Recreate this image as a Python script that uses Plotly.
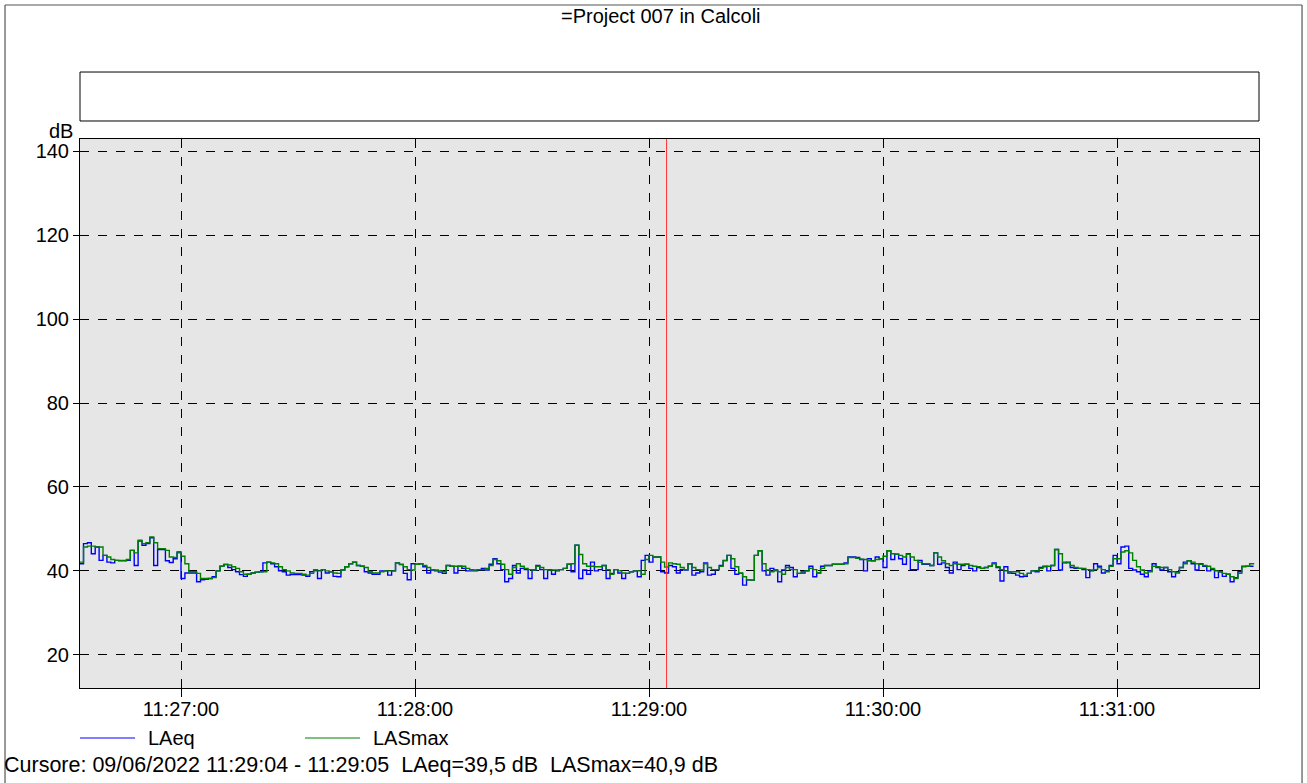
"""
Sound level meter trace (LAeq / LASmax) re-drawn with Plotly
"""
import pandas as pd
import plotly.graph_objects as go

TITLE = '=Project 007 in Calcoli'
START = '2022-06-09 11:26:34'
CURSOR = '2022-06-09 11:29:04.5'
CURSOR_TEXT = 'Cursore: 09/06/2022 11:29:04 - 11:29:05&nbsp; LAeq=39,5 dB&nbsp; LASmax=40,9 dB'

# 1 s values, dB
LAEQ = [
    41.7, 46.5, 46.7, 44.1, 45.7, 42.5, 43.7, 42.1, 41.9, 42.5,
    42.4, 42.4, 42.5, 44.9, 41.3, 47.1, 46.1, 46.5, 47.9, 41.3,
    45.1, 45.1, 42.4, 42.0, 42.9, 44.5, 38.2, 39.5, 39.5, 39.5,
    37.4, 37.9, 38.0, 38.2, 38.6, 40.0, 41.1, 41.5, 40.8, 40.3,
    39.8, 39.1, 38.7, 39.2, 39.5, 39.7, 39.8, 41.9, 42.1, 41.7,
    41.0, 40.0, 39.8, 39.0, 39.1, 39.1, 39.1, 39.0, 38.7, 39.8,
    40.2, 38.2, 40.3, 39.5, 39.8, 38.7, 38.6, 40.2, 41.0, 41.7,
    42.1, 41.3, 41.1, 39.8, 39.5, 39.2, 39.2, 40.0, 40.0, 39.0,
    40.0, 41.9, 41.5, 39.4, 37.9, 41.7, 41.6, 41.7, 41.0, 39.5,
    40.2, 40.0, 39.7, 39.4, 41.3, 41.1, 39.5, 41.1, 40.6, 40.0,
    40.0, 40.0, 40.3, 40.6, 40.2, 41.6, 42.9, 41.7, 40.3, 37.4,
    38.2, 41.3, 39.5, 40.6, 40.3, 38.2, 40.2, 41.3, 40.3, 38.2,
    40.3, 39.2, 40.0, 40.3, 40.6, 41.6, 39.8, 46.1, 38.2, 40.2,
    39.2, 42.1, 40.0, 40.3, 41.3, 38.2, 39.4, 40.3, 39.5, 38.2,
    39.4, 39.8, 40.0, 38.6, 42.5, 43.7, 42.1, 43.3, 43.3, 39.8,
    39.5, 41.3, 41.0, 39.5, 40.3, 40.2, 41.7, 39.0, 39.5, 39.8,
    41.9, 39.0, 39.2, 40.3, 41.3, 42.5, 43.7, 40.6, 39.2, 39.4,
    36.6, 37.9, 37.8, 43.7, 44.8, 40.0, 39.0, 40.6, 40.2, 37.4,
    40.2, 41.3, 40.8, 38.6, 39.4, 39.5, 40.0, 41.1, 38.6, 39.5,
    41.1, 41.3, 41.3, 41.6, 41.6, 41.6, 41.9, 43.3, 43.3, 43.2,
    42.7, 40.0, 42.9, 42.4, 43.3, 42.9, 40.8, 44.8, 42.7, 44.0,
    42.9, 41.6, 44.1, 40.3, 40.3, 42.5, 41.6, 41.6, 41.3, 44.3,
    41.6, 41.9, 40.8, 39.5, 42.1, 40.3, 41.3, 41.6, 40.6, 40.0,
    40.8, 40.6, 40.8, 41.1, 41.9, 40.8, 37.6, 41.0, 39.5, 39.4,
    39.0, 38.6, 38.7, 39.4, 40.0, 39.8, 40.8, 41.1, 40.0, 41.3,
    45.1, 40.2, 41.9, 42.1, 40.8, 40.6, 40.6, 40.3, 38.4, 40.0,
    41.7, 41.1, 39.5, 40.0, 41.3, 43.7, 41.7, 45.7, 45.9, 40.6,
    40.2, 39.8, 39.2, 38.6, 40.0, 41.7, 40.8, 40.2, 40.8, 39.8,
    38.6, 39.8, 40.8, 42.1, 42.4, 41.7, 40.2, 41.7, 41.1, 40.0,
    40.3, 38.4, 39.8, 38.7, 39.2, 37.4, 38.4, 39.8, 41.1, 41.1,
    41.1, 41.1,
]

LASMAX = [
    42.1, 45.7, 45.9, 45.9, 45.7, 45.7, 43.7, 43.3, 42.7, 42.5,
    42.5, 42.5, 42.7, 44.9, 44.3, 47.3, 46.5, 46.7, 48.1, 46.7,
    45.3, 45.3, 44.9, 43.3, 43.2, 44.3, 43.5, 41.7, 39.8, 39.8,
    39.4, 38.2, 38.2, 38.2, 38.4, 40.0, 41.1, 41.6, 41.4, 41.0,
    40.6, 39.8, 39.2, 39.2, 39.5, 39.7, 39.8, 39.8, 42.1, 41.9,
    41.7, 41.0, 40.3, 40.0, 39.5, 39.4, 39.4, 39.2, 39.0, 39.4,
    40.0, 40.0, 40.3, 40.0, 39.8, 39.5, 39.4, 40.2, 41.0, 41.7,
    42.1, 41.3, 41.1, 40.8, 39.8, 39.5, 39.5, 39.8, 40.0, 40.0,
    40.0, 41.9, 41.6, 41.0, 40.3, 40.2, 41.6, 41.7, 41.3, 40.8,
    40.3, 40.2, 40.0, 39.8, 41.3, 41.1, 41.1, 41.1, 41.1, 40.6,
    40.3, 40.2, 40.3, 40.3, 40.6, 41.3, 42.7, 42.4, 41.6, 40.3,
    39.2, 40.8, 41.7, 41.1, 40.6, 40.3, 40.2, 41.1, 40.8, 40.3,
    40.2, 40.2, 40.2, 40.3, 40.6, 41.6, 41.7, 46.1, 43.9, 41.7,
    41.1, 41.1, 41.0, 41.0, 41.3, 40.3, 39.2, 40.3, 40.0, 39.5,
    39.4, 39.8, 40.0, 40.0, 39.2, 42.7, 43.7, 43.3, 43.3, 42.1,
    40.9, 41.9, 41.7, 41.6, 40.8, 40.3, 41.7, 40.8, 40.3, 40.2,
    41.7, 40.8, 40.3, 40.3, 41.1, 42.4, 43.7, 42.9, 41.0, 39.5,
    38.6, 37.9, 37.8, 43.7, 44.8, 41.7, 40.2, 39.8, 40.0, 39.8,
    39.2, 40.8, 40.3, 40.3, 39.4, 39.8, 40.0, 40.6, 40.3, 39.5,
    40.6, 41.3, 41.3, 41.6, 41.6, 41.6, 41.7, 43.2, 43.2, 43.0,
    42.8, 42.7, 42.4, 42.4, 42.7, 42.9, 43.5, 44.8, 44.1, 44.0,
    43.7, 43.3, 44.0, 43.3, 42.5, 42.1, 41.7, 41.7, 41.3, 44.3,
    43.3, 42.4, 41.7, 41.3, 41.7, 41.6, 41.6, 41.6, 41.3, 41.1,
    41.0, 40.6, 40.8, 41.1, 41.7, 41.0, 40.3, 40.0, 39.8, 39.8,
    39.8, 39.4, 39.0, 39.4, 40.0, 40.0, 40.6, 41.0, 41.1, 41.3,
    45.1, 44.1, 42.1, 41.9, 41.3, 40.8, 40.6, 40.6, 40.3, 40.2,
    40.3, 40.8, 40.3, 39.8, 41.1, 42.9, 42.9, 44.5, 44.8, 44.3,
    42.5, 41.0, 40.2, 39.5, 39.8, 41.1, 41.0, 40.8, 40.8, 40.3,
    39.8, 39.5, 40.8, 41.7, 42.4, 42.1, 41.7, 41.6, 41.3, 41.1,
    40.6, 40.0, 39.8, 39.4, 39.2, 38.6, 38.2, 39.4, 41.0, 41.1,
    41.7, 41.9,
]

Y_TICKS = [20, 40, 60, 80, 100, 120, 140]
X_TICKS = ['11:27:00', '11:28:00', '11:29:00', '11:30:00', '11:31:00']

FONT = 'Liberation Sans, Arial, sans-serif'

times = pd.date_range(START, periods=len(LAEQ), freq='s')

fig = go.Figure()
fig.add_trace(go.Scatter(x=times, y=LAEQ, mode='lines', line_shape='hv',
                         line=dict(color='#0000ff', width=1.4), name='LAeq'))
fig.add_trace(go.Scatter(x=times, y=LASMAX, mode='lines', line_shape='hv',
                         line=dict(color='#008000', width=1.4), name='LASmax'))

fig.update_xaxes(
    range=['2022-06-09 11:26:34.1', '2022-06-09 11:31:36.4'],
    tickvals=[pd.Timestamp('2022-06-09 ' + t) for t in X_TICKS],
    ticktext=X_TICKS,
    ticks='outside', ticklen=8, tickcolor='black', ticklabelstandoff=-5,
    showgrid=True, gridcolor='black', griddash='dash', gridwidth=1,
    showline=True, linecolor='black', mirror=True, zeroline=False,
)
fig.update_yaxes(
    range=[12.1, 142.9],
    tickvals=Y_TICKS,
    ticks='outside', ticklen=6, tickcolor='black',
    showgrid=True, gridcolor='black', griddash='dash', gridwidth=1,
    showline=True, linecolor='black', mirror=True, zeroline=False,
)

# outer frame (paper coords: plot area is x 80..1259, y 139..688 px)
fl, fr, ft, fb = -0.0636, 1.0365, 1.2441, -0.19
frame = dict(color='#555555', width=1.2)
shapes = [
    dict(type='line', xref='paper', yref='paper', x0=fl, x1=fr, y0=ft, y1=ft, line=frame),
    dict(type='line', xref='paper', yref='paper', x0=fl, x1=fl, y0=fb, y1=ft, line=frame),
    dict(type='line', xref='paper', yref='paper', x0=fr, x1=fr, y0=fb, y1=ft, line=frame),
    # empty header box
    dict(type='rect', xref='paper', yref='paper', x0=0, x1=1, y0=1.0328, y1=1.122,
         line=dict(color='black', width=1), fillcolor='white'),
    # legend samples
    dict(type='line', xref='paper', yref='paper', x0=0, x1=0.0467, y0=-0.0911, y1=-0.0911,
         line=dict(color='#0000ff', width=1)),
    dict(type='line', xref='paper', yref='paper', x0=0.1908, x1=0.2375, y0=-0.0911, y1=-0.0911,
         line=dict(color='#008000', width=1)),
]

annotations = [
    dict(text=TITLE, xref='paper', yref='paper', x=0.493, y=1.2235, xanchor='center',
         yanchor='middle', showarrow=False),
    dict(text='dB', xref='paper', yref='paper', x=-0.004, y=1.015, xanchor='right',
         yanchor='middle', showarrow=False),
    dict(text='LAeq', xref='paper', yref='paper', x=0.056, y=-0.0911, xanchor='left',
         yanchor='middle', showarrow=False),
    dict(text='LASmax', xref='paper', yref='paper', x=0.2468, y=-0.0911, xanchor='left',
         yanchor='middle', showarrow=False),
    dict(text=CURSOR_TEXT, xref='paper', yref='paper', x=-0.066, y=-0.14, xanchor='left',
         yanchor='middle', showarrow=False, font=dict(size=21.5)),
]

fig.update_layout(
    width=1307, height=783,
    margin=dict(l=80, r=48, t=139, b=95),
    paper_bgcolor='white', plot_bgcolor='#e6e6e6',
    font=dict(family=FONT, size=20, color='black'),
    showlegend=False,
    shapes=shapes, annotations=annotations,
)

# cursor (added after the layout shapes so it is appended, not merged)
fig.add_vline(x=pd.Timestamp(CURSOR).timestamp() * 1000, line_color='#ff3030', line_width=1)

fig.write_html('out.html', config={'displayModeBar': False},
               post_script="document.body.style.margin='0px';")
